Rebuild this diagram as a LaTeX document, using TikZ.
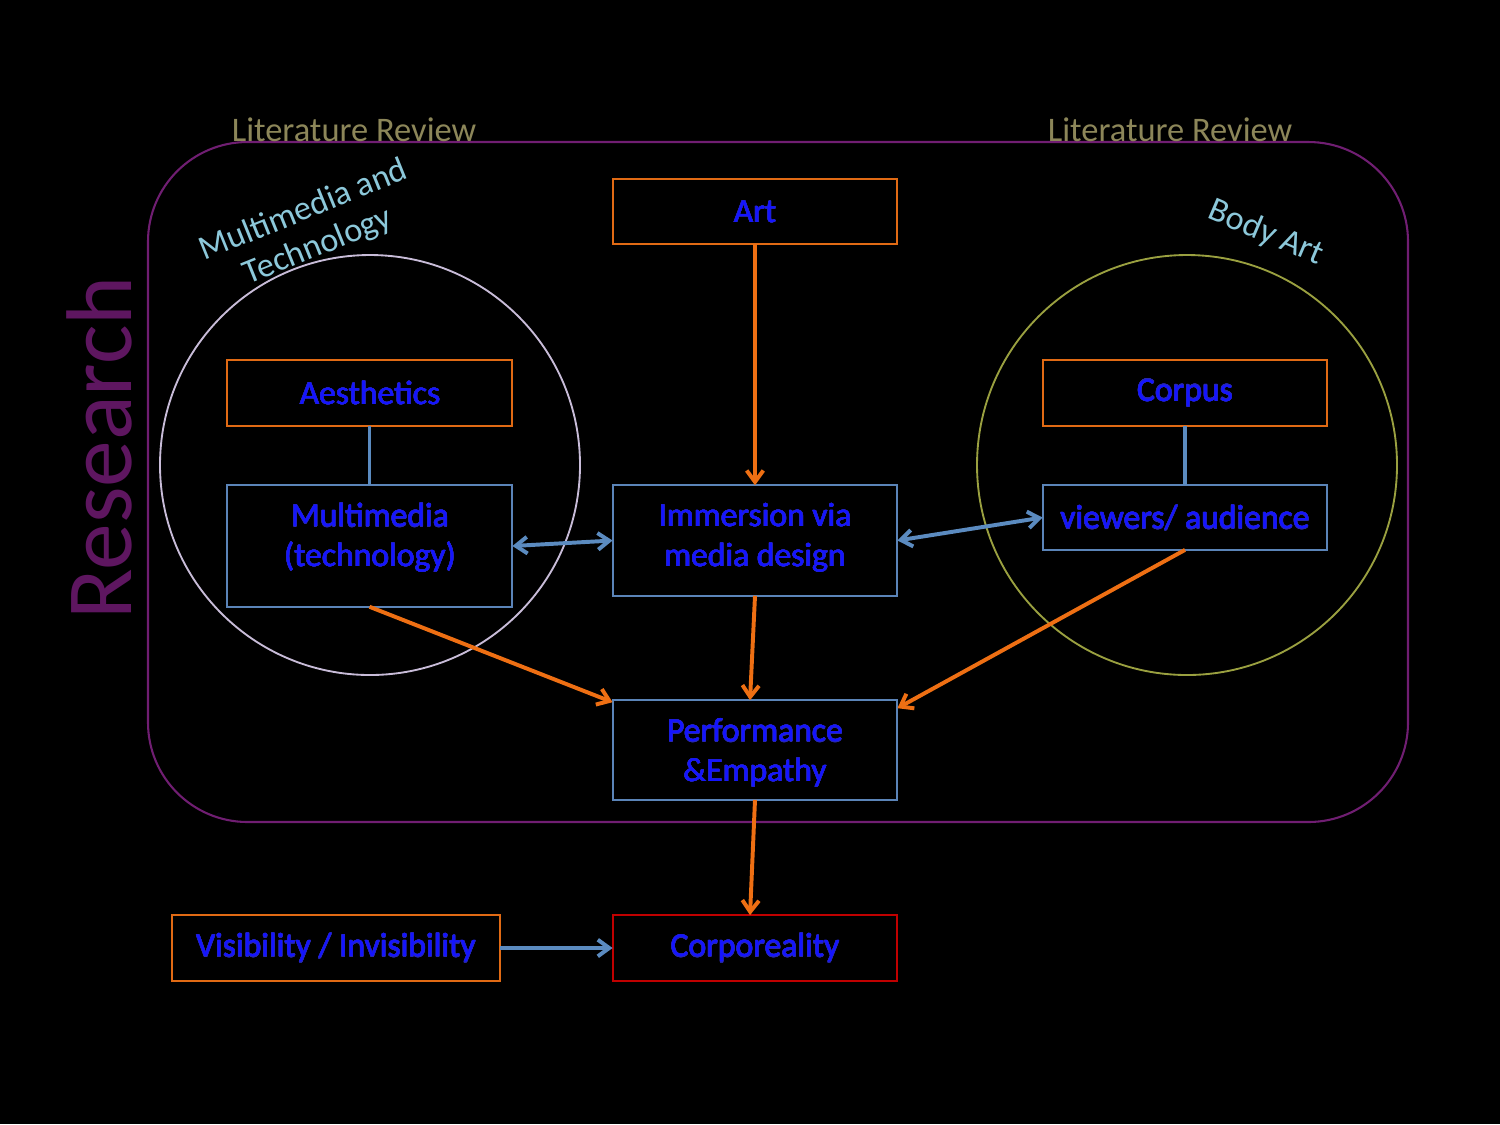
\documentclass[tikz,border=0pt]{standalone}
\usepackage{fontspec}
\setmainfont{Carlito}
\usepackage{contour}
\contourlength{0.15pt}
\usetikzlibrary{arrows.meta}
\definecolor{framepurple}{HTML}{701E72}
\definecolor{researchpurple}{HTML}{5E1660}
\definecolor{litolive}{HTML}{8C8659}
\definecolor{labelblue}{HTML}{8CC8DA}
\definecolor{circlelav}{HTML}{C8BCD8}
\definecolor{circleolive}{HTML}{9AA040}
\definecolor{boxorange}{HTML}{E06A14}
\definecolor{boxblue}{HTML}{5B84B8}
\definecolor{boxred}{HTML}{C00000}
\definecolor{arrorange}{HTML}{EE6F13}
\definecolor{arrblue}{HTML}{5B8BC0}
\definecolor{textblue}{HTML}{1414FF}
\definecolor{glowblue}{HTML}{2828B0}
\newcommand\pxu{0.48pt}
\newcommand\gl[1]{\contour{glowblue}{#1}}
\tikzset{
  boxbase/.style={draw, line width=1pt, inner sep=0pt, outer sep=0pt},
  obox/.style={boxbase, draw=boxorange},
  bbox/.style={boxbase, draw=boxblue},
  rbox/.style={boxbase, draw=boxred},
  boxtext/.style={align=center, text=textblue, inner sep=0pt, font=\fontsize{16.2}{19.2}\selectfont},
  tipshape/.style={},
  oarrow/.style={draw=arrorange, line width=1.9pt, -{Straight Barb[length=5.5pt,width=8pt]}},
  barrow/.style={draw=arrblue, line width=1.9pt, {Straight Barb[length=5.5pt,width=8pt]}-{Straight Barb[length=5.5pt,width=8pt]}},
  barrowone/.style={draw=arrblue, line width=1.9pt, -{Straight Barb[length=5.5pt,width=8pt]}},
  bline/.style={draw=arrblue, line width=1.9pt},
  littext/.style={text=litolive, font=\fontsize{16.6}{19.8}\selectfont, inner sep=0pt},
  rotlabel/.style={text=labelblue, font=\fontsize{16.5}{18.5}\selectfont, align=center, inner sep=0pt}
}
\begin{document}
\begin{tikzpicture}[x=0.016933cm,y=-0.016933cm]
\fill[black] (0,0) rectangle (1500,1124);
\useasboundingbox (0,0) rectangle (1500,1124);

% outer rounded frame
\draw[framepurple, line width=1pt, rounded corners=48pt] (148,142) rectangle (1408,822);

% circles
\draw[circlelav, line width=0.9pt] (370,465) circle (210);
\draw[circleolive, line width=0.9pt] (1187,465) circle (210);

% texts
\node[rotate=90, anchor=base, text=researchpurple, font=\fontsize{45}{52}\selectfont, inner sep=0pt] (research) at (131,448) {Research};
\node[littext, anchor=base] (litl) at (354,141) {Literature Review};
\node[littext, anchor=base] (litr) at (1170,141) {Literature Review};
\node[rotlabel, rotate=22] (mmt) at (311,229) {Multimedia and\\Technology};
\node[rotlabel, rotate=-23] (bodyart) at (1266,233) {Body Art};

% boxes
\node[obox, minimum width={286*\pxu}, minimum height={65*\pxu}] (art) at (755,211.5) {};
\node[obox, minimum width={287*\pxu}, minimum height={66*\pxu}] (aes) at (369.5,393) {};
\node[bbox, minimum width={287*\pxu}, minimum height={122*\pxu}] (mm) at (369.5,546) {};
\node[bbox, minimum width={286*\pxu}, minimum height={111*\pxu}] (imm) at (755,540.5) {};
\node[obox, minimum width={286*\pxu}, minimum height={66*\pxu}] (corpus) at (1185,393) {};
\node[bbox, minimum width={286*\pxu}, minimum height={65*\pxu}] (view) at (1185,517.5) {};
\node[bbox, minimum width={286*\pxu}, minimum height={100*\pxu}] (perf) at (755,750) {};
\node[obox, minimum width={330*\pxu}, minimum height={66*\pxu}] (vis) at (336,948) {};
\node[rbox, minimum width={286*\pxu}, minimum height={66*\pxu}] (corp) at (755,948) {};

% box texts
\node[boxtext] (arttext) at (755,212) {\gl{Art}};
\node[boxtext] (aestext) at (370,393) {\gl{Aesthetics}};
\node[boxtext] (mmtext) at (370,538) {\gl{Multimedia}\\\gl{(technology)}};
\node[boxtext] (immtext) at (755,538) {\gl{Immersion via}\\\gl{media design}};
\node[boxtext] (corpustext) at (1185,393) {\gl{Corpus}};
\node[boxtext] (viewtext) at (1185,518) {\gl{viewers/ audience}};
\node[boxtext] (perftext) at (755,753) {\gl{Performance}\\\gl{\&Empathy}};
\node[boxtext] (vistext) at (336,948) {\gl{Visibility / Invisibility}};
\node[boxtext] (corptext) at (755,948) {\gl{Corporeality}};

% connectors
\draw[oarrow] (art.south) -- (imm.north);
\draw[bline] (aes.south) -- (mm.north);
\draw[bline] (corpus.south) -- (view.north);
\draw[barrow] (mm.east) -- (imm.west);
\draw[barrow] (imm.east) -- (view.west);
\draw[oarrow] (mm.south) -- ([yshift={-2*\pxu}]perf.north west);
\draw[oarrow] (imm.south) -- ([xshift={-5*\pxu}]perf.north);
\draw[oarrow] (view.south) -- ([yshift={-8*\pxu}]perf.north east);
\draw[oarrow] (perf.south) -- ([xshift={-5*\pxu}]corp.north);
\draw[barrowone] (vis.east) -- (corp.west);
\end{tikzpicture}
\end{document}
